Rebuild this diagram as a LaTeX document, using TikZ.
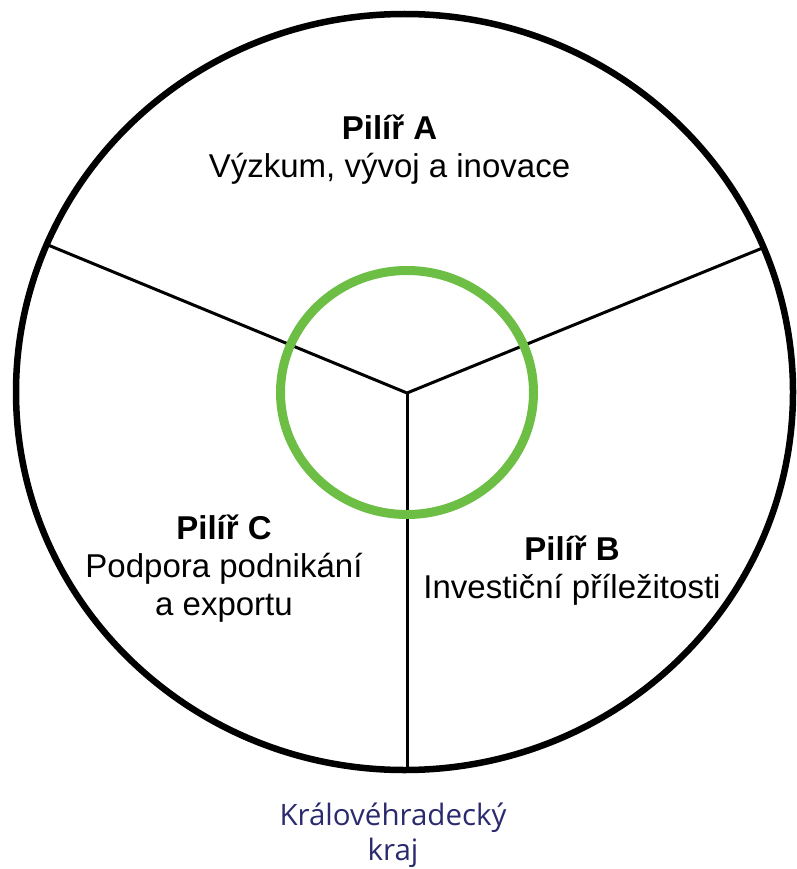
\documentclass[tikz,border=0pt]{standalone}
\usepackage{fontspec}
\setmainfont{Liberation Sans}
\newfontfamily\krajfont{Open Sans}
\definecolor{pilgreen}{RGB}{109,190,69}
\definecolor{krajblue}{RGB}{43,42,110}
\begin{document}
\begin{tikzpicture}[x=1pt,y=-1pt,
  pillar/.style={align=center,anchor=base,inner sep=0pt,font=\fontsize{33}{38}\selectfont},
  region/.style={align=center,anchor=base,inner sep=0pt,text=krajblue,font=\krajfont\fontsize{29.5}{35}\selectfont}]
\useasboundingbox (0,0) rectangle (796,869);
\coordinate (hub) at (407,393);
\coordinate (endA) at (48,245);
\coordinate (endB) at (765,247);
\coordinate (endC) at (407,770);
\draw[line width=6.5pt] (404.5,392) ellipse [x radius=388.5, y radius=378];
\draw[line width=3pt] (endA) -- (hub) -- (endB);
\draw[line width=3pt] (hub) -- (endC);
\draw[color=pilgreen,line width=9pt] (407,392.5) ellipse [x radius=126.5, y radius=122];
\node[pillar] (pilA) at (389.5,178) {\textbf{Pilíř A}\\Výzkum, vývoj a inovace};
\node[pillar] (pilB) at (572,598) {\textbf{Pilíř B}\\Investiční příležitosti};
\node[pillar] (pilC) at (224,615) {\textbf{Pilíř C}\\Podpora podnikání\\a exportu};
\node[region] (kraj) at (393,860) {Královéhradecký\\kraj};
\end{tikzpicture}
\end{document}
